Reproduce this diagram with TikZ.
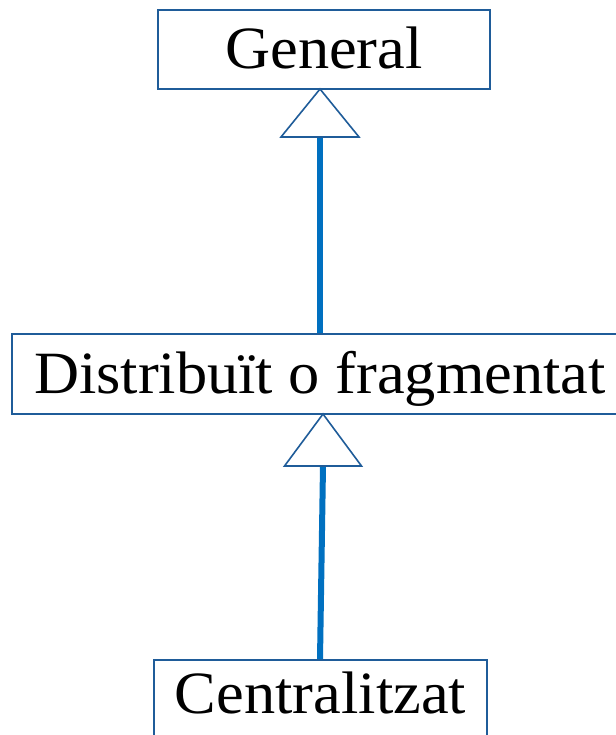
\documentclass[tikz,border=0pt]{standalone}
\usepackage{fontspec}
\setmainfont[FakeStretch=1.04]{Liberation Serif}
\definecolor{boxblue}{HTML}{1F5C99}
\definecolor{linkblue}{HTML}{0070C0}
\begin{document}
\begin{tikzpicture}[x=1pt,y=-1pt,
  classbox/.style={draw=boxblue, line width=1.6pt, fill=white, inner sep=0pt,
    font=\fontsize{60}{60}\selectfont, text height=41pt, text depth=3pt},
  hollowtri/.style={draw=boxblue, line width=1.6pt, fill=white, line join=miter},
  link/.style={draw=linkblue, line width=6pt}]
\useasboundingbox (0,0) rectangle (615,735);

% class boxes
\node[classbox, minimum width=332pt, minimum height=79pt] (gen) at (324,49.5) {General};
\node[classbox, minimum width=616pt, minimum height=80pt] (dist) at (320,374) {Distribuït o fragmentat};
\node[classbox, minimum width=333pt, minimum height=79pt, text depth=12pt, anchor=north] (cent) at (320.5,659) {Centralitzat};

% generalisation links: apex and base of each hollow triangle
\coordinate (apexA) at (320,89);
\coordinate (baseA) at (320,137);
\coordinate (apexB) at (323,414);
\coordinate (baseB) at (323,466);

\draw[link] (baseA) -- (baseA |- dist.north);
\draw[link] (baseB) -- (320,659 |- cent.north);

\draw[hollowtri] (apexA) -- ++(-39,48) -- ++(78,0) -- cycle;
\draw[hollowtri] (apexB) -- ++(-38.5,52) -- ++(77,0) -- cycle;
\end{tikzpicture}
\end{document}
